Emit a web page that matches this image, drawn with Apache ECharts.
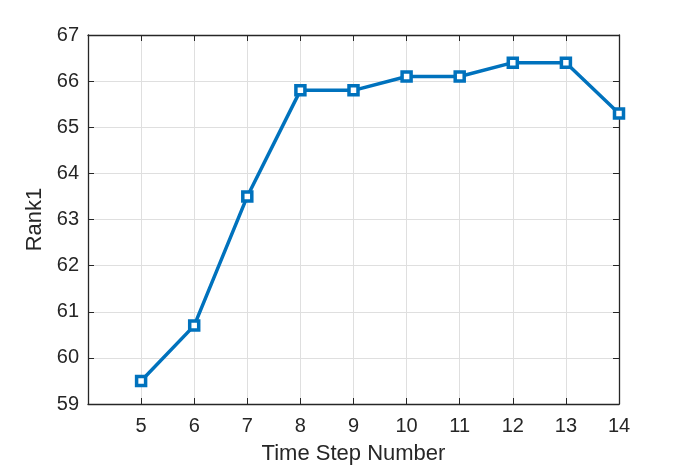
<!DOCTYPE html>
<html>
<head>
<meta charset="utf-8">
<script src="https://cdn.jsdelivr.net/npm/echarts@6/dist/echarts.min.js"></script>
<style>
  html, body { margin: 0; padding: 0; background: #fff; }
  #main { width: 684px; height: 470px; }
</style>
</head>
<body>
<div id="main"></div>
<script>
// time steps and rank1 values
const steps = [5, 6, 7, 8, 9, 10, 11, 12, 13, 14]
const rank1 = [59.5, 60.7, 63.5, 65.8, 65.8, 66.1, 66.1, 66.4, 66.4, 65.3]

const data = steps.map(function (s, i) { return [s, rank1[i]] })

const txt = "#262626"
const font = "Helvetica, 'Liberation Sans', Arial, sans-serif"
const gridLine = { show: true, lineStyle: { color: "#dfdfdf", width: 1 } }

const chart = echarts.init(document.getElementById("main"))
const option = {
  animation: false,
  textStyle: { fontFamily: font },
  grid: { left: 88, right: 65, top: 35, bottom: 62, containLabel: false },
  xAxis: [
    {
      type: "value", min: 4, max: 14, interval: 1,
      name: "Time Step Number", nameLocation: "middle", nameGap: 39,
      nameTextStyle: { color: txt, fontSize: 22, fontFamily: font },
      axisLine: { show: true, lineStyle: { color: txt, width: 1.3 } },
      axisTick: { show: true, inside: true, length: 6, lineStyle: { color: txt } },
      axisLabel: {
        color: txt, fontSize: 20, margin: 12, fontFamily: font,
        formatter: function (v) { return v === 4 ? "" : v }
      },
      splitLine: gridLine
    },
    {
      type: "value", min: 4, max: 14, interval: 1, position: "top",
      axisLine: { show: true, lineStyle: { color: txt, width: 1.3 } },
      axisTick: { show: true, inside: true, length: 6, lineStyle: { color: txt } },
      axisLabel: { show: false },
      splitLine: { show: false }
    }
  ],
  yAxis: [
    {
      type: "value", min: 59, max: 67, interval: 1,
      name: "Rank1", nameLocation: "middle", nameGap: 36,
      nameTextStyle: { color: txt, fontSize: 22, fontFamily: font },
      axisLine: { show: true, lineStyle: { color: txt, width: 1.3 } },
      axisTick: { show: true, inside: true, length: 6, lineStyle: { color: txt } },
      axisLabel: { color: txt, fontSize: 20, margin: 9, fontFamily: font },
      splitLine: gridLine
    },
    {
      type: "value", min: 59, max: 67, interval: 1, position: "right",
      axisLine: { show: true, lineStyle: { color: txt, width: 1.3 } },
      axisTick: { show: true, inside: true, length: 6, lineStyle: { color: txt } },
      axisLabel: { show: false },
      splitLine: { show: false }
    }
  ],
  series: [
    {
      type: "line",
      data: data,
      lineStyle: { color: "#0072BD", width: 3.5 },
      symbol: "rect",
      symbolSize: 9,
      itemStyle: { color: "#ffffff", borderColor: "#0072BD", borderWidth: 3.5 }
    }
  ]
}
chart.setOption(option)
</script>
</body>
</html>
